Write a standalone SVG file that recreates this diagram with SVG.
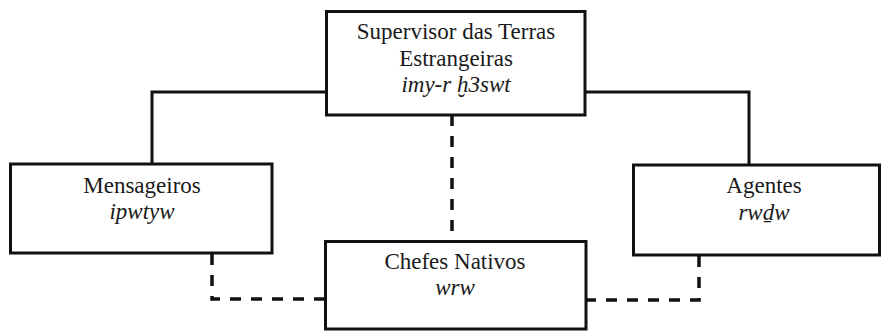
<svg xmlns="http://www.w3.org/2000/svg" width="882" height="332" viewBox="0 0 882 332">
<style>
.box{fill:#fff;stroke:#111;stroke-width:3}
.t{font-family:"Liberation Serif","Times New Roman","DejaVu Serif",serif;font-size:23px;fill:#1a1a1a;text-anchor:middle}
.i{font-style:italic}
.solid{fill:none;stroke:#111;stroke-width:3}
.dash{fill:none;stroke:#111;stroke-width:3.5;stroke-dasharray:11 10}
</style>
<rect width="882" height="332" fill="#fff"/>
<g id="connectors">
<path class="solid" d="M326.5,92 H152 V164"/>
<path class="solid" d="M585,92 H749 V165"/>
<path class="dash" d="M452,115 V241"/>
<path class="dash" d="M212,254 V299 H325"/>
<path class="dash" d="M699,256 V300 H586"/>
</g>
<g id="supervisor">
<rect class="box" x="326.5" y="11.5" width="258.5" height="103.5"/>
<text class="t" x="456" y="39">Supervisor das Terras</text>
<text class="t" x="456" y="65.5">Estrangeiras</text>
<text class="t i" x="456" y="91.5">imy-r ḫ3swt</text>
</g>
<g id="mensageiros">
<rect class="box" x="10.5" y="164" width="261.5" height="89"/>
<text class="t" x="142" y="193">Mensageiros</text>
<text class="t i" x="142" y="219">ipwtyw</text>
</g>
<g id="agentes">
<rect class="box" x="633.5" y="165" width="246" height="90"/>
<text class="t" x="764" y="193">Agentes</text>
<text class="t i" x="764" y="219.5">rwḏw</text>
</g>
<g id="chefes">
<rect class="box" x="325.5" y="241.5" width="260.5" height="87.5"/>
<text class="t" x="455" y="269">Chefes Nativos</text>
<text class="t i" x="455" y="295">wrw</text>
</g>
</svg>
